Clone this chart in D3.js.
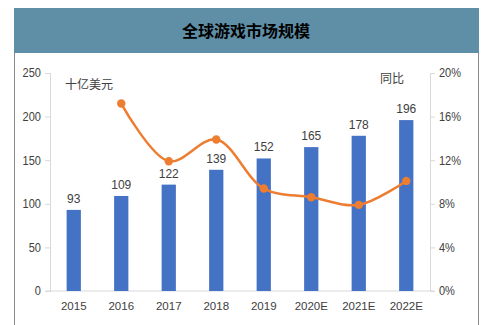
<!DOCTYPE html>
<html>
<head>
<meta charset="utf-8">
<script src="https://cdn.jsdelivr.net/npm/d3@7"></script>
<style>
  html, body { margin: 0; padding: 0; background: #fff; }
  svg { display: block; }
</style>
</head>
<body>
<svg id="chart" width="488" height="325"></svg>
<script>
// Global game market size (billion USD) and year-over-year growth (%)
const years = ["2015", "2016", "2017", "2018", "2019", "2020E", "2021E", "2022E"];
const marketSize = [93, 109, 122, 139, 152, 165, 178, 196];
const growthYears = ["2016", "2017", "2018", "2019", "2020E", "2021E", "2022E"];
const growthRate = [17.2, 11.9, 13.9, 9.4, 8.6, 7.9, 10.1];
const leftTicks = [0, 50, 100, 150, 200, 250];
const rightTicks = [0, 4, 8, 12, 16, 20];

const svg = d3.select("#chart");
const W = 488, H = 325;
const latin = "Arial, 'Liberation Sans', sans-serif";
const cjk = "'Noto Sans CJK SC', sans-serif";

// panel frame and title bar
svg.append("rect").attr("x", 14.5).attr("y", 8.5).attr("width", 464).attr("height", H)
  .attr("fill", "#fff").attr("stroke", "#8a8a8a").attr("stroke-width", 1);
svg.append("rect").attr("x", 14).attr("y", 8).attr("width", 465).attr("height", 45)
  .attr("fill", "#5f8fa6");
svg.append("text").attr("x", 246).attr("y", 37).attr("text-anchor", "middle")
  .attr("font-family", cjk).attr("font-weight", "bold").attr("font-size", 16)
  .attr("fill", "#000").text("全球游戏市场规模");

const plot = { left: 50, right: 430, top: 73, bottom: 291 };

const x = d3.scaleBand().domain(years).range([plot.left, plot.right]).paddingInner(0.7).paddingOuter(0.35);
const yL = d3.scaleLinear().domain([0, 250]).range([plot.bottom, plot.top]);
const yR = d3.scaleLinear().domain([0, 20]).range([plot.bottom, plot.top]);

const axisColor = "#d9d9d9";
const textColor = "#404040";

// left axis
const gL = svg.append("g").attr("transform", `translate(${plot.left},0)`)
  .call(d3.axisLeft(yL).tickValues(leftTicks).tickSize(5).tickPadding(4));
// right axis
const gR = svg.append("g").attr("transform", `translate(${plot.right},0)`)
  .call(d3.axisRight(yR).tickValues(rightTicks).tickSize(5).tickPadding(4).tickFormat(d => d + "%"));
// category axis
const gX = svg.append("g").attr("transform", `translate(0,${plot.bottom})`)
  .call(d3.axisBottom(x).tickSize(0).tickPadding(11));

[gL, gR, gX].forEach(g => {
  g.selectAll("path.domain").attr("stroke", axisColor);
  g.selectAll(".tick line").attr("stroke", axisColor);
  g.selectAll(".tick text").attr("fill", textColor).attr("font-family", latin).attr("font-size", 12)
    .attr("transform", "scale(0.92,1)").each(function() {
      // keep narrowed text anchored at its tick
      const t = d3.select(this);
      const xPos = +t.attr("x") || 0;
      t.attr("x", xPos / 0.92);
    });
});
gX.selectAll(".tick text").attr("transform", null).attr("x", 0).attr("font-size", 11.5);
gX.select("path.domain").attr("d", `M${plot.left - 4},0H${plot.right + 4}`);

// bars
svg.append("g").selectAll("rect").data(years).join("rect")
  .attr("x", d => x(d))
  .attr("width", x.bandwidth())
  .attr("y", (d, i) => yL(marketSize[i]))
  .attr("height", (d, i) => plot.bottom - yL(marketSize[i]))
  .attr("fill", "#4472c4");

// bar value labels
svg.append("g").selectAll("text").data(years).join("text")
  .attr("x", d => x(d) + x.bandwidth() / 2)
  .attr("y", (d, i) => yL(marketSize[i]) - 7)
  .attr("text-anchor", "middle")
  .attr("font-family", latin).attr("font-size", 12).attr("fill", textColor)
  .text((d, i) => marketSize[i]);

// growth line
const pts = growthYears.map((d, i) => [x(d) + x.bandwidth() / 2, yR(growthRate[i])]);
svg.append("path").datum(pts)
  .attr("d", d3.line().curve(d3.curveCatmullRom.alpha(0.5)))
  .attr("fill", "none").attr("stroke", "#ed7d31").attr("stroke-width", 2.5);
svg.append("g").selectAll("circle").data(pts).join("circle")
  .attr("cx", d => d[0]).attr("cy", d => d[1]).attr("r", 4.2)
  .attr("fill", "#ed7d31");

// unit labels
svg.append("text").attr("x", 65).attr("y", 89)
  .attr("font-family", cjk).attr("font-size", 12).attr("fill", textColor).text("十亿美元");
svg.append("text").attr("x", 380).attr("y", 83)
  .attr("font-family", cjk).attr("font-size", 12).attr("fill", textColor).text("同比");
</script>
</body>
</html>
